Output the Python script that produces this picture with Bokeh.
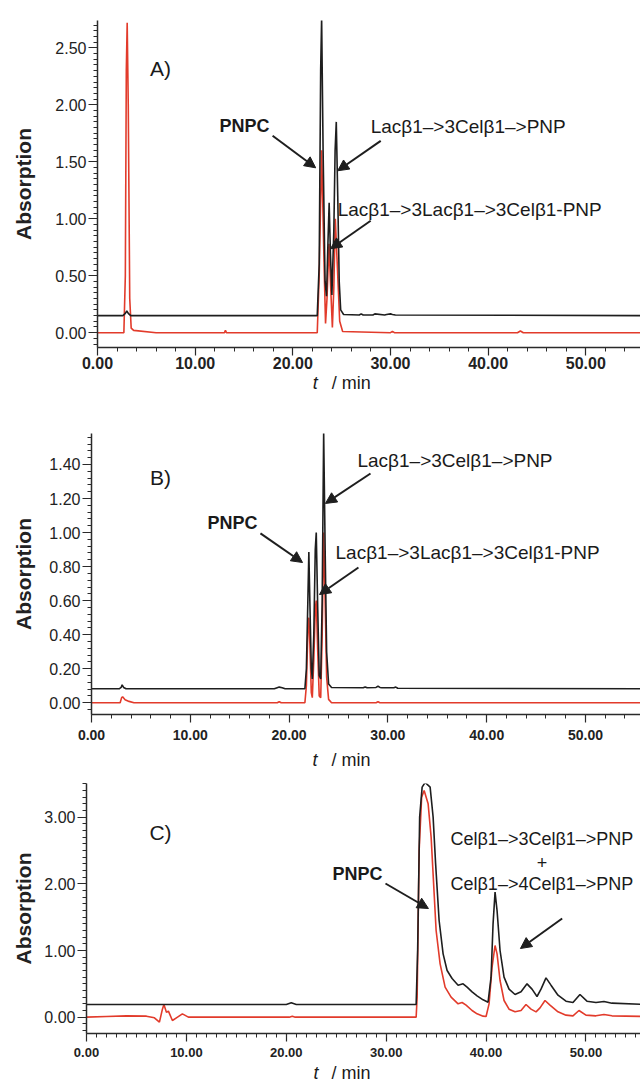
from bokeh.plotting import figure
from bokeh.models import (Range1d, Label, Arrow, NormalHead,
                          NumeralTickFormatter, SingleIntervalTicker)
from bokeh.layouts import column
from bokeh.embed import file_html
from bokeh.resources import INLINE

FONT = "Liberation Sans"
BLACK = "#1e1e1e"
RED = "#e23b2b"

# ---------------- Panel A ----------------
a_t_black = [0, 2.6, 2.85, 3.0, 3.15, 3.4, 22.5, 22.7, 22.85, 22.95, 23.1, 23.3,
             23.45, 23.6, 23.72, 23.85, 24.0, 24.2, 24.33, 24.45, 24.6, 24.75,
             24.9, 25.2, 26.8, 27.0, 27.2, 28.2, 28.4, 29.4, 29.6, 30.0, 30.2,
             30.5, 56]
a_y_black = [0.15, 0.15, 0.17, 0.19, 0.17, 0.15, 0.15, 0.6, 2.3, 2.76, 1.6, 0.45,
             0.32, 0.8, 1.14, 0.7, 0.33, 0.9, 1.6, 1.85, 1.2, 0.45,
             0.2, 0.16, 0.155, 0.165, 0.155, 0.155, 0.165, 0.155, 0.16, 0.165, 0.16,
             0.155, 0.15]
a_t_red = [0, 2.7, 2.85, 2.95, 3.04, 3.15, 3.3, 3.45, 3.7, 6.0, 13.0, 13.1, 13.2,
           22.5, 22.7, 22.95, 23.2, 23.35, 23.5, 23.7, 23.9, 24.05, 24.2, 24.35,
           24.55, 24.8, 25.1, 30.0, 30.2, 30.4, 43.0, 43.3, 43.6, 56]
a_y_red = [0, 0, 0.5, 2.3, 2.72, 2.0, 0.3, 0.04, 0.02, 0.0, 0.0, 0.02, 0.0,
           0, 0.5, 1.6, 0.6, 0.08, 0.3, 0.78, 0.35, 0.045, 0.4, 1.0,
           0.6, 0.1, 0.01, 0.0, 0.012, 0.0, 0.0, 0.015, 0.0, 0.0]

# ---------------- Panel B ----------------
b_t_black = [0, 2.8, 3.0, 3.1, 3.25, 3.5, 18.5, 18.8, 19.0, 19.3, 19.6, 21.6,
             21.75, 21.9, 22.0, 22.1, 22.25, 22.35, 22.5, 22.65, 22.75, 22.9,
             23.05, 23.2, 23.35, 23.5, 23.65, 23.8, 24.0, 24.3, 27.5, 27.7, 27.9,
             28.8, 29.0, 29.2, 29.4, 30.6, 30.8, 31.0, 56]
b_y_black = [0.082, 0.082, 0.09, 0.105, 0.09, 0.082, 0.082, 0.088, 0.092, 0.088,
             0.082, 0.082, 0.2, 0.6, 0.885, 0.6, 0.2, 0.14, 0.4, 0.9, 1.0, 0.55,
             0.16, 0.14, 0.6, 1.59, 0.9, 0.3, 0.11, 0.09, 0.088, 0.093, 0.088,
             0.09, 0.097, 0.09, 0.088, 0.088, 0.092, 0.085, 0.082]
b_t_red = [0, 2.9, 3.05, 3.15, 3.4, 3.8, 4.3, 18.8, 19.0, 19.2, 21.6, 21.75, 21.9,
           22.0, 22.1, 22.25, 22.35, 22.5, 22.65, 22.75, 22.9, 23.05, 23.2, 23.35,
           23.5, 23.65, 23.8, 24.0, 24.3, 28.8, 29.0, 29.2, 56]
b_y_red = [0, 0, 0.03, 0.035, 0.018, 0.008, 0, 0, 0.006, 0, 0, 0.1, 0.42,
           0.5, 0.35, 0.06, 0.03, 0.25, 0.55, 0.6, 0.3, 0.04, 0.03, 0.4,
           1.0, 0.6, 0.15, 0.02, 0.0, 0.0, 0.006, 0.0, 0.0]

# ---------------- Panel C ----------------
c_t_black = [0, 20.0, 20.5, 21.0, 33.0, 33.15, 33.35, 33.6, 33.9, 34.4, 34.7,
             34.95, 35.3, 35.7, 36.1, 36.6, 37.2, 37.7, 38.1, 38.6, 39.1, 39.7,
             40.2, 40.5, 40.7, 40.9, 41.1, 41.4, 41.8, 42.3, 42.9, 43.5, 44.1,
             44.6, 45.1, 45.5, 46.0, 46.5, 47.2, 48.0, 48.7, 49.4, 50.1, 51.0,
             51.8, 52.6, 56]
c_y_black = [0.19, 0.19, 0.215, 0.19, 0.19, 1.0, 3.0, 3.45, 3.52, 3.45, 3.0,
             2.3, 1.45, 0.95, 0.7, 0.58, 0.48, 0.5, 0.45, 0.38, 0.32, 0.26,
             0.225, 0.6, 1.4, 1.875, 1.6, 1.0, 0.6, 0.42, 0.34, 0.38, 0.5,
             0.42, 0.31, 0.42, 0.59, 0.48, 0.33, 0.24, 0.22, 0.34, 0.24, 0.22,
             0.235, 0.21, 0.19]
c_t_red = [0, 2.0, 4.0, 6.0, 6.8, 7.3, 7.6, 7.75, 8.0, 8.2, 8.6, 9.0, 9.6, 10.2,
           11.0, 20.3, 20.6, 20.9, 33.0, 33.1, 33.3, 33.55, 33.8, 34.2, 34.5,
           34.75, 35.0, 35.4, 35.9, 36.5, 37.2, 37.6, 38.0, 38.6, 39.1, 39.7,
           40.0, 40.3, 40.6, 40.9, 41.1, 41.4, 41.8, 42.3, 42.9, 43.5, 44.0,
           44.5, 45.0, 45.4, 45.9, 46.4, 47.2, 48.0, 48.7, 49.3, 50.0, 51.0,
           51.8, 52.6, 56]
c_y_red = [0, 0.01, 0.02, 0.015, -0.01, -0.075, 0.12, 0.19, 0.075, 0.09, -0.05,
           -0.01, 0.05, 0.0, 0.0, 0.0, 0.015, 0.0, 0.0, 0.3, 2.5, 3.3, 3.4, 3.2,
           2.7, 2.0, 1.3, 0.8, 0.45, 0.3, 0.2, 0.22, 0.18, 0.1, 0.05, 0.015,
           0.01, 0.2, 0.75, 1.075, 0.95, 0.55, 0.25, 0.12, 0.08, 0.1, 0.19,
           0.12, 0.08, 0.14, 0.25, 0.18, 0.08, 0.03, 0.02, 0.1, 0.03, 0.02,
           0.04, 0.02, 0.01]

x_tick_interval = 10
y_label = "Absorption"
x_label_italic = "t"
x_label_rest = "/ min"


def make_panel(height, top, bottom, left, x_end, y_rng, y_int, y_minor, x_minor,
               xlab_px, xlab_standoff, ylab_standoff):
    p = figure(width=640, height=height, output_backend="svg",
               toolbar_location=None,
               x_range=Range1d(0, x_end), y_range=Range1d(*y_rng),
               min_border_left=left, min_border_right=0,
               min_border_top=top, min_border_bottom=bottom)
    p.outline_line_color = None
    p.grid.visible = False

    xa = p.xaxis[0]
    xa.ticker = SingleIntervalTicker(interval=x_tick_interval, num_minor_ticks=x_minor)
    xa.formatter = NumeralTickFormatter(format="0.00")
    xa.major_label_text_font = FONT
    xa.major_label_text_font_style = "bold"
    xa.major_label_text_font_size = xlab_px
    xa.major_label_text_color = "#222222"
    xa.major_label_standoff = xlab_standoff
    xa.major_tick_out = 8
    xa.major_tick_in = 0
    xa.minor_tick_out = 4
    xa.minor_tick_in = 0

    ya = p.yaxis[0]
    ya.ticker = SingleIntervalTicker(interval=y_int, num_minor_ticks=y_minor)
    ya.formatter = NumeralTickFormatter(format="0.00")
    ya.major_label_text_font = FONT
    ya.major_label_text_font_size = "16px"
    ya.major_label_text_color = "#222222"
    ya.major_label_standoff = 2
    ya.major_tick_out = 9
    ya.major_tick_in = 0
    ya.minor_tick_out = 4
    ya.minor_tick_in = 0
    ya.axis_label = y_label
    ya.axis_label_text_font = FONT
    ya.axis_label_text_font_style = "bold"
    ya.axis_label_text_font_size = "21px"
    ya.axis_label_text_color = "#222222"
    ya.axis_label_standoff = ylab_standoff

    for ax in (xa, ya):
        ax.axis_line_color = "#2a2a2a"
        ax.axis_line_width = 1.5
        ax.major_tick_line_color = "#2a2a2a"
        ax.major_tick_line_width = 1.2
        ax.minor_tick_line_color = "#2a2a2a"
        ax.minor_tick_line_width = 1
    return p


def make_xlabel(main, height, left, x_t, x_rest, y):
    q = figure(width=640, height=height, output_backend="svg",
               toolbar_location=None, x_range=main.x_range,
               y_range=Range1d(0, height), x_axis_location=None,
               y_axis_location=None, min_border_left=left, min_border_right=0,
               min_border_top=0, min_border_bottom=0)
    q.outline_line_color = None
    q.grid.visible = False
    add_text(q, x_t, y, x_label_italic, size="18px", italic=True)
    add_text(q, x_rest, y, x_label_rest, size="18px")
    return q


def add_text(p, x, y, text, size="19px", bold=False, align="left", italic=False):
    style = "bold" if bold else ("italic" if italic else "normal")
    p.add_layout(Label(x=x, y=y, text=text, text_font=FONT, text_font_size=size,
                       text_font_style=style, text_align=align,
                       text_baseline="middle", text_color="#1a1a1a"))


def add_arrow(p, x0, y0, x1, y1):
    p.add_layout(Arrow(end=NormalHead(size=11, fill_color=BLACK, line_color=BLACK),
                       x_start=x0, y_start=y0, x_end=x1, y_end=y1,
                       line_color=BLACK, line_width=2))


# Panel A
pA = make_panel(374, 20, 27, 97, 55.6, (-0.13, 2.74), 0.5, 10, 5, "16px", 1, 17)
pA.line(a_t_red, a_y_red, line_color=RED, line_width=1.6)
pA.line(a_t_black, a_y_black, line_color=BLACK, line_width=1.6)
add_text(pA, 6.45, 2.32, "A)", size="21px", align="center")
add_text(pA, 15.06, 1.816, "PNPC", size="18px", bold=True, align="center")
add_arrow(pA, 17.93, 1.728, 22.34, 1.447)
add_text(pA, 27.97, 1.807, "Lacβ1–>3Celβ1–>PNP")
add_arrow(pA, 29.0, 1.684, 24.59, 1.421)
add_text(pA, 24.59, 1.079, "Lacβ1–>3Lacβ1–>3Celβ1-PNP")
add_arrow(pA, 27.97, 0.982, 23.87, 0.737)
lA = make_xlabel(pA, 26, 97, 22.03, 23.98, 18)

# Panel B
pB = make_panel(346, 33, 32, 91, 55.57, (-0.069, 1.582), 0.2, 5, 5, "14px", 7, 11)
pB.line(b_t_red, b_y_red, line_color=RED, line_width=1.6)
pB.line(b_t_black, b_y_black, line_color=BLACK, line_width=1.6)
add_text(pB, 6.98, 1.324, "B)", size="21px", align="center")
add_text(pB, 14.27, 1.059, "PNPC", size="18px", bold=True, align="center")
add_arrow(pB, 17.1, 0.995, 21.36, 0.824)
add_text(pB, 26.92, 1.424, "Lacβ1–>3Celβ1–>PNP")
add_arrow(pB, 28.24, 1.347, 23.68, 1.171)
add_text(pB, 24.7, 0.883, "Lacβ1–>3Lacβ1–>3Celβ1-PNP")
add_arrow(pB, 27.02, 0.795, 23.08, 0.636)
lB = make_xlabel(pB, 22, 91, 22.37, 24.29, 9)

# Panel C
pC = make_panel(295, 15, 30, 86, 55.46, (-0.245, 3.505), 1.0, 10, 10, "13px", 6, 6)
pC.line(c_t_red, c_y_red, line_color=RED, line_width=1.6)
pC.line(c_t_black, c_y_black, line_color=BLACK, line_width=1.6)
add_text(pC, 7.41, 2.77, "C)", size="21px", align="center")
add_text(pC, 27.13, 2.155, "PNPC", size="18px", bold=True, align="center")
add_arrow(pC, 29.93, 2.005, 34.23, 1.63)
add_text(pC, 36.44, 2.68, "Celβ1–>3Celβ1–>PNP", size="18px")
add_text(pC, 45.6, 2.32, "+", size="18px", align="center")
add_text(pC, 36.44, 2.005, "Celβ1–>4Celβ1–>PNP", size="18px")
add_arrow(pC, 47.62, 1.48, 43.44, 1.03)
lC = make_xlabel(pC, 18, 86, 22.72, 24.52, 9)

layout = column(column(pA, lA), column(pB, lB), column(pC, lC))
open("out.html", "w").write(file_html(layout, INLINE))
